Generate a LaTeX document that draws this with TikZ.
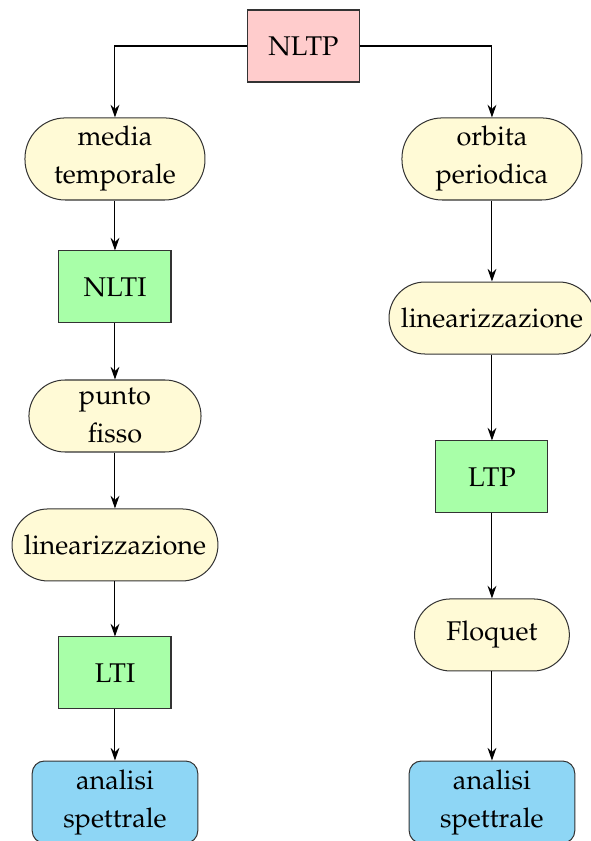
\documentclass[tikz,border=0pt]{standalone}
\usepackage[T1]{fontenc}
\usepackage{mathpazo}
\usetikzlibrary{arrows.meta}

\definecolor{sysred}{RGB}{255,204,204}
\definecolor{sysgreen}{RGB}{168,255,168}
\definecolor{opyellow}{RGB}{255,250,214}
\definecolor{resblue}{RGB}{142,214,245}

\tikzset{
  base/.style={draw=black!80, line width=0.4pt, align=center, inner sep=2pt,
    font=\fontsize{10.7}{15}\selectfont},
  sysbox/.style={base, rectangle, minimum width=1.556cm, minimum height=1cm},
  nltp/.style={sysbox, fill=sysred},
  lin/.style={sysbox, fill=sysgreen},
  opbox/.style={base, fill=opyellow, rounded corners=0.5cm, minimum height=1cm},
  opboxtall/.style={base, fill=opyellow, rounded corners=0.56cm, minimum height=1.14cm},
  resbox/.style={base, fill=resblue, rounded corners=0.17cm, minimum width=2.3cm, minimum height=1.14cm},
  flow/.style={-{Stealth[length=5pt,width=3.5pt]}, line width=0.4pt}
}

\begin{document}
\begin{tikzpicture}
\useasboundingbox (0,0) rectangle (8.208,-11.681);

% top system
\node[nltp] (nltp) at (4.215,-0.639) {NLTP};

% left branch: time average
\node[opboxtall, minimum width=2.5cm] (media) at (1.597,-2.208) {media\\temporale};
\node[lin] (nlti) at (1.597,-3.986) {NLTI};
\node[opbox, minimum width=2.39cm] (punto) at (1.597,-5.778) {punto\\fisso};
\node[opbox, minimum width=2.86cm] (linL) at (1.597,-7.569) {linearizzazione};
\node[lin] (lti) at (1.597,-9.347) {LTI};
\node[resbox] (anL) at (1.597,-11.14) {analisi\\spettrale};

% right branch: periodic orbit
\node[opboxtall, minimum width=2.5cm] (orbita) at (6.833,-2.208) {orbita\\periodica};
\node[opbox, minimum width=2.86cm] (linR) at (6.833,-4.417) {linearizzazione};
\node[lin] (ltp) at (6.833,-6.625) {LTP};
\node[opbox, minimum width=2.15cm] (floq) at (6.833,-8.819) {Floquet};
\node[resbox] (anR) at (6.833,-11.14) {analisi\\spettrale};

% connectors
\draw[flow] (nltp.west) -| (media.north);
\draw[flow] (nltp.east) -| (orbita.north);
\draw[flow] (media) -- (nlti);
\draw[flow] (nlti) -- (punto);
\draw[flow] (punto) -- (linL);
\draw[flow] (linL) -- (lti);
\draw[flow] (lti) -- (anL);
\draw[flow] (orbita) -- (linR);
\draw[flow] (linR) -- (ltp);
\draw[flow] (ltp) -- (floq);
\draw[flow] (floq) -- (anR);
\end{tikzpicture}
\end{document}
